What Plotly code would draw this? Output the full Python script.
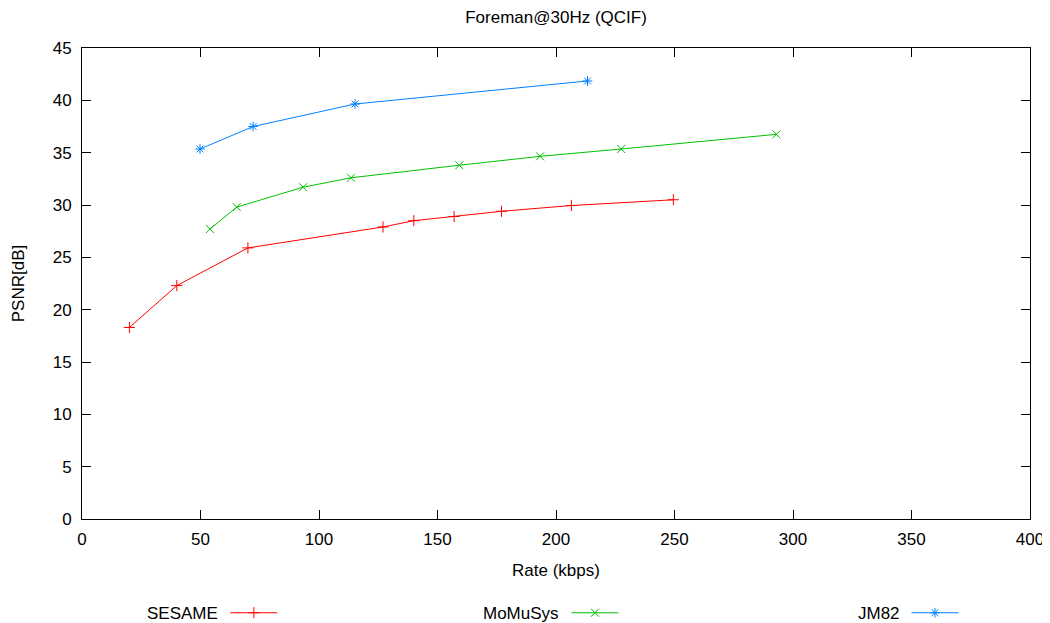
import plotly.graph_objects as go

# Data
sesame_rate = [20, 40, 70, 127, 140, 157, 177, 206.5, 249.5]
sesame_psnr = [18.3, 22.3, 25.9, 27.9, 28.5, 28.9, 29.4, 29.95, 30.5]

momusys_rate = [54, 65.3, 93.3, 113.5, 159.2, 193.3, 227.5, 293]
momusys_psnr = [27.7, 29.8, 31.7, 32.6, 33.8, 34.65, 35.35, 36.75]

jm82_rate = [49.8, 72.2, 115.2, 213.3]
jm82_psnr = [35.35, 37.5, 39.65, 41.85]

x_ticks = [0, 50, 100, 150, 200, 250, 300, 350, 400]
y_ticks = [0, 5, 10, 15, 20, 25, 30, 35, 40, 45]
series_names = ["SESAME", "MoMuSys", "JM82"]

FONT = "Liberation Sans, Arial, sans-serif"
FS = 17

series = [
    (sesame_rate, sesame_psnr, "#ff0000", "cross-thin-open", "legend"),
    (momusys_rate, momusys_psnr, "#00c000", "x-thin-open", "legend2"),
    (jm82_rate, jm82_psnr, "#0080ff", "asterisk-open", "legend3"),
]

fig = go.Figure()
for xs, ys, color, sym, lg in series:
    fig.add_trace(go.Scatter(
        x=xs, y=ys, mode="lines+markers", name=" ",
        line=dict(color=color, width=1),
        marker=dict(symbol=sym, size=8, line=dict(color=color, width=1), color=color),
        legend=lg, showlegend=True,
    ))

LEG_Y = -0.2
legend_common = dict(
    orientation="h", yanchor="middle", xanchor="left", y=LEG_Y,
    bgcolor="rgba(0,0,0,0)", font=dict(family=FONT, size=FS, color="black"),
    itemwidth=47,
)
legend_x = [0.1512, 0.5110, 0.8697]
label_x = [0.1456, 0.5055, 0.8647]

for name, lx in zip(series_names, label_x):
    fig.add_annotation(text=name, x=lx, y=LEG_Y, xref="paper", yref="paper",
                       xanchor="right", yanchor="middle", showarrow=False,
                       font=dict(family=FONT, size=FS, color="black"))

fig.update_layout(
    width=1042, height=615, showlegend=True,
    margin=dict(l=74, r=20, t=40, b=104, autoexpand=False),
    paper_bgcolor="white", plot_bgcolor="white",
    font=dict(family=FONT, size=FS, color="black"),
    title=dict(text="Foreman@30Hz (QCIF)", x=0.5, xref="paper", xanchor="center",
               y=1 - 9 / 615, yref="container", yanchor="middle",
               font=dict(family=FONT, size=FS, color="black")),
    xaxis=dict(range=[0, 400], tickvals=x_ticks, ticks="inside", ticklen=9, tickcolor="black",
               showline=True, linecolor="black", linewidth=1, mirror="ticks",
               showgrid=False, zeroline=False, automargin=False, ticklabelstandoff=5,
               title=dict(text="Rate (kbps)", standoff=15, font=dict(size=FS))),
    yaxis=dict(range=[0, 45], tickvals=y_ticks, ticks="inside", ticklen=9, tickcolor="black",
               showline=True, linecolor="black", linewidth=1, mirror="ticks",
               showgrid=False, zeroline=False, automargin=False, ticklabelstandoff=6,
               title=dict(text="PSNR[dB]", standoff=23, font=dict(size=FS))),
    legend=dict(**legend_common, x=legend_x[0]),
    legend2=dict(**legend_common, x=legend_x[1]),
    legend3=dict(**legend_common, x=legend_x[2]),
)

fig.write_html("out.html")
